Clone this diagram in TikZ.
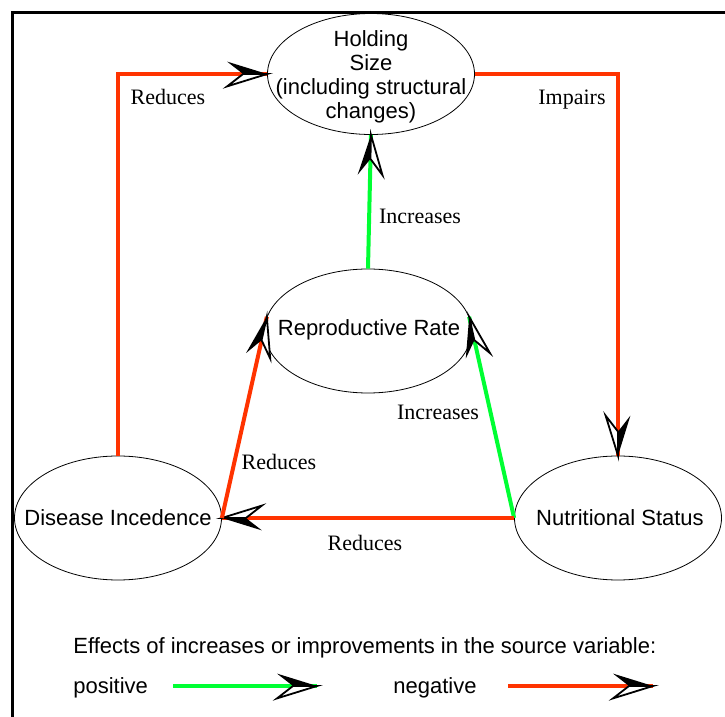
\documentclass[tikz,border=0pt]{standalone}
\usepackage{fontspec}
\setmainfont{Liberation Serif}
\newfontfamily\sansf{Liberation Sans}
\usetikzlibrary{shapes.geometric,decorations.markings}

\definecolor{posgreen}{RGB}{0,255,51}
\definecolor{negred}{RGB}{255,51,0}

\tikzset{
  % half-filled dart head drawn at the end of a connector
  dart/.style={postaction={decorate},
    decoration={markings, mark=at position 1 with {
      \fill[black] (0pt,0pt) -- (-20pt,6.2pt) -- (-12pt,0pt) -- cycle;
      \draw[black, fill=white, line width=0.9pt, line join=miter]
        (0pt,0pt) -- (-20pt,-6.2pt) -- (-12pt,0pt) -- cycle;
    }}},
  poslink/.style={draw=posgreen, line width=2pt, dart},
  neglink/.style={draw=negred, line width=2pt, dart},
  var/.style={ellipse, draw, thin, inner sep=0pt,
    minimum width=103.5pt, minimum height=62pt},
  vartext/.style={inner sep=0pt, align=center,
    font=\sansf\fontsize{11}{12}\selectfont},
  lbl/.style={inner sep=0pt, font=\fontsize{11}{12}\selectfont},
  legend/.style={inner sep=0pt, anchor=west, font=\sansf\fontsize{11}{12}\selectfont}
}

\begin{document}
\begin{tikzpicture}[x=0.5pt, y=-0.5pt]
  \useasboundingbox (0,0) rectangle (725,717);
  \clip (0,0) rectangle (725,717);
  \draw[line width=1.5pt] (12.5,12.5) rectangle (800,800);

  % variables
  \node[var, minimum height=60.5pt] (hold) at (371,74) {};
  \node[var] (repro) at (368,331) {};
  \node[var] (dis) at (118,518) {};
  \node[var] (nut) at (618,518) {};
  \node[vartext] (hold-t) at (371,77) {Holding\\Size\\(including structural\\changes)};
  \node[vartext] (repro-t) at (369,330) {Reproductive Rate};
  \node[vartext] (dis-t) at (118,518) {Disease Incedence};
  \node[vartext] (nut-t) at (620,518) {Nutritional Status};

  % effects
  \draw[neglink] (dis.north) |- (hold.west);
  \draw[neglink] (hold.east) -| (nut.north);
  \draw[poslink] (repro.north) -- (hold.south);
  \draw[poslink] (nut.west) -- (repro.8);
  \draw[neglink] (nut.west) -- (dis.east);
  \draw[neglink] (dis.east) -- (repro.172);

  % effect labels
  \node[lbl] (l1) at (168,97) {Reduces};
  \node[lbl] (l2) at (572,100) {Impairs};
  \node[lbl] (l3) at (420,216) {Increases};
  \node[lbl] (l4) at (438,412) {Increases};
  \node[lbl] (l5) at (279,462) {Reduces};
  \node[lbl] (l6) at (365,543) {Reduces};

  % key
  \node[legend] (key) at (73,648) {Effects of increases or improvements in the source variable:};
  \node[legend] (kpos) at (73,688) {positive};
  \node[legend] (kneg) at (393,688) {negative};
  \coordinate (pa) at (173,686);
  \coordinate (pb) at (317,686);
  \coordinate (na) at (508,686);
  \coordinate (nb) at (653,686);
  \draw[poslink] (pa) -- (pb);
  \draw[neglink] (na) -- (nb);
\end{tikzpicture}
\end{document}
